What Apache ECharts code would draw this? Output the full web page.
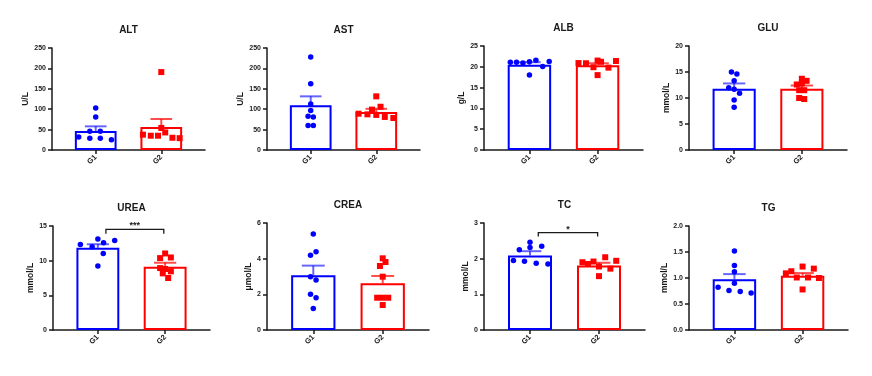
<!DOCTYPE html>
<html>
<head>
<meta charset="utf-8">
<script src="https://cdn.jsdelivr.net/npm/echarts@6/dist/echarts.min.js"></script>
<style>
  html, body { margin: 0; padding: 0; background: #fff; }
  #chart { width: 872px; height: 376px; }
</style>
</head>
<body>
<div id="chart"></div>
<script>
// --- data ---
const categories = ['G1', 'G2']
const titles = ['ALT', 'AST', 'ALB', 'GLU', 'UREA', 'CREA', 'TC', 'TG']
const yNames = ['U/L', 'U/L', 'g/L', 'mmol/L', 'mmol/L', 'μmol/L', 'mmol/L', 'mmol/L']
const yMax = [250, 250, 25, 20, 15, 6, 3, 2]
const yStep = [50, 50, 5, 5, 5, 2, 1, 0.5]
const yDigits = [0, 0, 0, 0, 0, 0, 0, 1]

const meanG1 = [46.6, 109.5, 20.5, 11.8, 11.85, 3.07, 2.09, 0.975]
const semG1 = [11.4, 22, 0.6, 1.0, 0.52, 0.54, 0.12, 0.1]
const meanG2 = [56.4, 93, 20.4, 11.8, 9.13, 2.62, 1.81, 1.045]
const semG2 = [19.6, 8, 0.45, 0.6, 0.57, 0.41, 0.075, 0.05]

const pointsG1 = [
  [103, 81, 32, 46, 29, 46, 29, 25],
  [228, 162.6, 112.7, 97, 83, 81, 60, 60],
  [21.1, 21.1, 20.9, 21.2, 21.6, 20.1, 21.3, 18.05],
  [15.0, 14.6, 13.3, 11.95, 11.7, 10.9, 9.6, 8.2],
  [13.14, 12.9, 12.33, 12.6, 12.0, 11.04, 9.22],
  [5.38, 4.39, 4.19, 2.99, 2.8, 2.0, 1.81, 1.2],
  [2.46, 2.35, 2.31, 2.25, 1.95, 1.93, 1.87, 1.85],
  [1.52, 1.24, 1.12, 0.90, 0.82, 0.76, 0.74, 0.71],
]
const pointsG2 = [
  [191, 54, 37.6, 35, 35, 43, 30, 29],
  [131.5, 106, 99, 89, 87.4, 86, 81, 78.4],
  [20.9, 20.85, 19.9, 21.5, 21.2, 19.8, 21.4, 18.0],
  [13.7, 13.3, 12.6, 12.8, 11.5, 11.5, 10.0, 9.8],
  [11.04, 10.37, 10.46, 8.93, 8.8, 8.46, 8.17, 7.5],
  [4.02, 3.81, 3.59, 2.99, 1.81, 1.81, 1.81, 1.40],
  [2.04, 1.90, 1.92, 1.94, 1.85, 1.78, 1.72, 1.51],
  [1.22, 1.18, 1.13, 1.09, 1.01, 1.01, 1.0, 0.78],
]
// horizontal scatter spread, in category units
const jitterG1 = [
  [0, 0, -0.26, -0.09, -0.09, 0.07, 0.07, 0.24],
  [0, 0, 0, 0, -0.04, 0.04, -0.04, 0.04],
  [-0.28, -0.19, -0.095, 0, 0.095, 0.195, 0.29, 0],
  [-0.04, 0.04, 0, -0.08, 0, 0.08, 0, 0],
  [0, 0.25, -0.26, 0.085, -0.085, 0.08, 0],
  [0, 0.04, -0.04, -0.04, 0.04, -0.04, 0.04, 0],
  [0, 0.17, 0, -0.155, -0.24, -0.08, 0.09, 0.26],
  [0, 0, 0, 0, -0.24, -0.08, 0.085, 0.245],
]
const jitterG2 = [
  [0, 0, -0.28, -0.16, -0.05, 0.06, 0.17, 0.28],
  [0, 0.065, -0.065, -0.27, -0.135, 0, 0.13, 0.26],
  [-0.28, -0.17, -0.06, 0, 0.05, 0.16, 0.27, 0],
  [0, 0.07, -0.075, 0, -0.04, 0.035, -0.04, 0.035],
  [0, -0.075, 0.085, -0.075, 0, 0.085, -0.035, 0.045],
  [0, 0.04, -0.04, 0, -0.08, 0, 0.08, 0],
  [0.09, -0.24, -0.08, 0.25, -0.16, 0, 0.165, 0],
  [0, 0.165, -0.165, -0.245, -0.085, 0.08, 0.24, 0],
]

// significance brackets
const sigPanels = [4, 6]
const sigLabels = ['***', '*']
const sigY = [14.5, 2.73]
const sigDrop = [0.6, 0.11]
const sigX = [1.12, 1.98]

// --- layout (pixels) ---
const gridLeft = [52, 267, 484, 689, 53, 267, 484, 689]
const gridRight = [205, 420, 643, 847, 210, 429, 645, 848]
const gridTop = [48, 48, 46, 46, 226, 223, 223, 226]
const gridBottom = [150, 150, 150, 150, 330, 330, 330, 330]
const nameGaps = [19, 21, 15, 15, 15, 11, 10, 17]

const FONT = '"Liberation Sans", Arial, sans-serif'
const INK = '#1a1a1a'
const colors = ['#0000ff', '#ff0000']
const errColors = ['rgba(0,0,255,0.6)', 'rgba(255,0,0,0.7)']
const symbols = ['circle', 'rect']

function renderErrorBar(params, api) {
  const x = api.value(0)
  const m = api.value(1)
  const s = api.value(2)
  const base = api.coord([x, m])
  const top = api.coord([x, m + s])
  const cap = api.size([1, 0])[0] * 0.33
  const stroke = errColors[params.dataIndex]
  return {
    type: 'group',
    children: [
      { type: 'line', shape: { x1: base[0], y1: base[1], x2: top[0], y2: top[1] }, style: { stroke, lineWidth: 2 } },
      { type: 'line', shape: { x1: top[0] - cap / 2, y1: top[1], x2: top[0] + cap / 2, y2: top[1] }, style: { stroke, lineWidth: 2 } },
    ],
  }
}

function renderBracket(params, api) {
  const a = api.coord([api.value(0), api.value(2)])
  const b = api.coord([api.value(1), api.value(2)])
  const drop = api.size([0, api.value(3)])[1]
  const label = sigLabels[api.value(4)]
  return {
    type: 'group',
    children: [
      {
        type: 'polyline',
        shape: { points: [[a[0], a[1] + drop], a, b, [b[0], b[1] + drop]] },
        style: { stroke: INK, lineWidth: 1.3, fill: null },
      },
      {
        type: 'text',
        x: (a[0] + b[0]) / 2,
        y: a[1] + 1,
        style: { text: label, align: 'center', verticalAlign: 'bottom', fill: INK, font: `bold 9px ${FONT}` },
      },
    ],
  }
}

const grid = []
const xAxis = []
const yAxis = []
const title = []
const series = []

titles.forEach((name, i) => {
  const w = gridRight[i] - gridLeft[i]
  const h = gridBottom[i] - gridTop[i]
  grid.push({ left: gridLeft[i], top: gridTop[i], width: w, height: h })
  title.push({
    text: name,
    left: gridLeft[i] + w / 2,
    top: gridTop[i] - 23,
    textAlign: 'center',
    padding: 0,
    textStyle: { fontFamily: FONT, fontSize: 10, fontWeight: 'bold', color: INK },
  })
  xAxis.push({
    gridIndex: i,
    type: 'value',
    min: 1 / 3,
    max: 8 / 3,
    splitLine: { show: false },
    axisLine: { lineStyle: { color: INK, width: 1.5 } },
    axisTick: { customValues: [1, 2], length: 4, lineStyle: { color: INK, width: 1.5 } },
    axisLabel: {
      customValues: [1, 2],
      formatter: (v) => categories[Math.round(v) - 1],
      rotate: 45,
      margin: 6,
      fontFamily: FONT,
      fontSize: 7.5,
      fontWeight: 'bold',
      color: INK,
    },
  })
  yAxis.push({
    gridIndex: i,
    type: 'value',
    min: 0,
    max: yMax[i],
    interval: yStep[i],
    name: yNames[i],
    nameLocation: 'middle',
    nameGap: nameGaps[i],
    nameTextStyle: { fontFamily: FONT, fontSize: 8.5, fontWeight: 'bold', color: INK },
    splitLine: { show: false },
    axisLine: { show: true, lineStyle: { color: INK, width: 1.5 } },
    axisTick: { show: true, length: 4, lineStyle: { color: INK, width: 1.5 } },
    axisLabel: {
      margin: 6,
      fontFamily: FONT,
      fontSize: 7,
      fontWeight: 'bold',
      color: INK,
      formatter: (v) => v.toFixed(yDigits[i]),
    },
  })

  series.push({
    type: 'bar',
    xAxisIndex: i,
    yAxisIndex: i,
    barWidth: (w * 2) / 7 - 2,
    z: 1,
    silent: true,
    itemStyle: { color: '#fff', borderWidth: 2 },
    data: [
      { value: [1, meanG1[i]], itemStyle: { borderColor: colors[0] } },
      { value: [2, meanG2[i]], itemStyle: { borderColor: colors[1] } },
    ],
  })
  series.push({
    type: 'custom',
    xAxisIndex: i,
    yAxisIndex: i,
    z: 2,
    silent: true,
    renderItem: renderErrorBar,
    data: [
      [1, meanG1[i], semG1[i]],
      [2, meanG2[i], semG2[i]],
    ],
  })
  ;[pointsG1, pointsG2].forEach((pts, g) => {
    const jit = g === 0 ? jitterG1 : jitterG2
    series.push({
      type: 'scatter',
      xAxisIndex: i,
      yAxisIndex: i,
      z: 3,
      silent: true,
      symbol: symbols[g],
      symbolSize: g === 0 ? 5.5 : 6,
      itemStyle: { color: colors[g], opacity: 1 },
      data: pts[i].map((v, k) => [g + 1 + jit[i][k], v]),
    })
  })
})

sigPanels.forEach((p, k) => {
  series.push({
    type: 'custom',
    xAxisIndex: p,
    yAxisIndex: p,
    z: 4,
    silent: true,
    clip: false,
    renderItem: renderBracket,
    data: [[sigX[0], sigX[1], sigY[k], sigDrop[k], k]],
  })
})

const chart = echarts.init(document.getElementById('chart'), null, { renderer: 'canvas' })
chart.setOption({
  backgroundColor: '#fff',
  animation: false,
  title,
  grid,
  xAxis,
  yAxis,
  series,
})
</script>
</body>
</html>
